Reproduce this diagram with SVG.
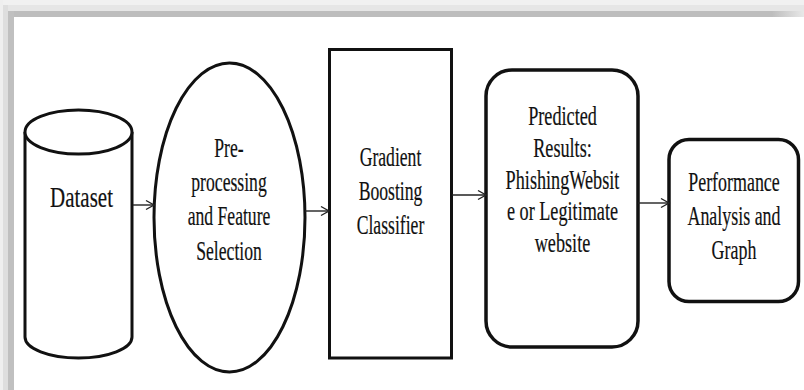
<svg xmlns="http://www.w3.org/2000/svg" width="804" height="390" viewBox="0 0 804 390">
  <defs>
    <linearGradient id="fadeR" x1="0" y1="0" x2="1" y2="0">
      <stop offset="0.96" stop-color="#bdbdbd"/>
      <stop offset="1" stop-color="#e8e8e8"/>
    </linearGradient>
    <marker id="arr" markerUnits="userSpaceOnUse" markerWidth="12" markerHeight="12" refX="9" refY="6" orient="auto">
      <path d="M1,1.5 L9,6 L1,10.5" fill="none" stroke="#222" stroke-width="1.4"/>
    </marker>
  </defs>
  <style>
    .shape { fill: #ffffff; stroke: #111; stroke-width: 3; }
    .round { fill: #ffffff; stroke: #111; stroke-width: 3.5; }
    .lbl { font-family: 'Liberation Serif', 'Times New Roman', serif; font-size: 28px; fill: #111; stroke: #111; stroke-width: 0.2; text-anchor: middle; }
    .conn { stroke: #222; stroke-width: 1.4; fill: none; marker-end: url(#arr); }
  </style>
  <rect x="0" y="0" width="804" height="390" fill="#ffffff"/>
  <!-- frame shadow -->
  <rect x="0" y="0" width="804" height="5" fill="#f1f1f1"/>
  <rect x="0" y="5" width="804" height="6" fill="#e6e6e6"/>
  <rect x="3" y="11" width="801" height="6" fill="url(#fadeR)"/>
  <rect x="0" y="0" width="3" height="390" fill="#efefef"/>
  <rect x="3" y="5" width="5" height="385" fill="#dedede"/>
  <rect x="8" y="11" width="6" height="379" fill="#c0c0c0"/>

  <g id="dataset">
    <path class="shape" d="M25,132 L25,337 A53.5,21 0 0 0 132,337 L132,132"/>
    <ellipse class="shape" cx="78.5" cy="132" rx="53.5" ry="22"/>
    <text class="lbl" transform="translate(81.5,207) scale(0.7,1)" style="font-size:30px">Dataset</text>
  </g>

  <g id="preprocessing">
    <ellipse class="shape" cx="229.5" cy="217.5" rx="75.5" ry="154.5"/>
    <g transform="translate(229,0) scale(0.63,1)">
      <text class="lbl" x="0" y="157">Pre-</text>
      <text class="lbl" x="0" y="191">processing</text>
      <text class="lbl" x="0" y="225">and Feature</text>
      <text class="lbl" x="0" y="260">Selection</text>
    </g>
  </g>

  <g id="classifier">
    <rect x="329.5" y="49.5" width="122" height="308.5" class="shape"/>
    <g transform="translate(390.5,0) scale(0.63,1)">
      <text class="lbl" x="0" y="166">Gradient</text>
      <text class="lbl" x="0" y="200">Boosting</text>
      <text class="lbl" x="0" y="234">Classifier</text>
    </g>
  </g>

  <g id="results">
    <rect x="486" y="70" width="152" height="277" rx="26" ry="26" class="round"/>
    <g transform="translate(562.5,0) scale(0.65,1)">
      <text class="lbl" x="0" y="125">Predicted</text>
      <text class="lbl" x="0" y="157">Results:</text>
      <text class="lbl" x="0" y="189">PhishingWebsit</text>
      <text class="lbl" x="0" y="220">e or Legitimate</text>
      <text class="lbl" x="0" y="252">website</text>
    </g>
  </g>

  <g id="performance">
    <rect x="669" y="139.5" width="129.5" height="162" rx="20" ry="20" class="round"/>
    <g transform="translate(734,0) scale(0.64,1)">
      <text class="lbl" x="0" y="191">Performance</text>
      <text class="lbl" x="0" y="225">Analysis and</text>
      <text class="lbl" x="0" y="259">Graph</text>
    </g>
  </g>

  <g id="connectors">
    <line class="conn" x1="133" y1="205" x2="154" y2="205"/>
    <line class="conn" x1="305" y1="211" x2="329" y2="211"/>
    <line class="conn" x1="452" y1="195" x2="486" y2="195"/>
    <line class="conn" x1="638" y1="203" x2="669" y2="203"/>
  </g>
</svg>
